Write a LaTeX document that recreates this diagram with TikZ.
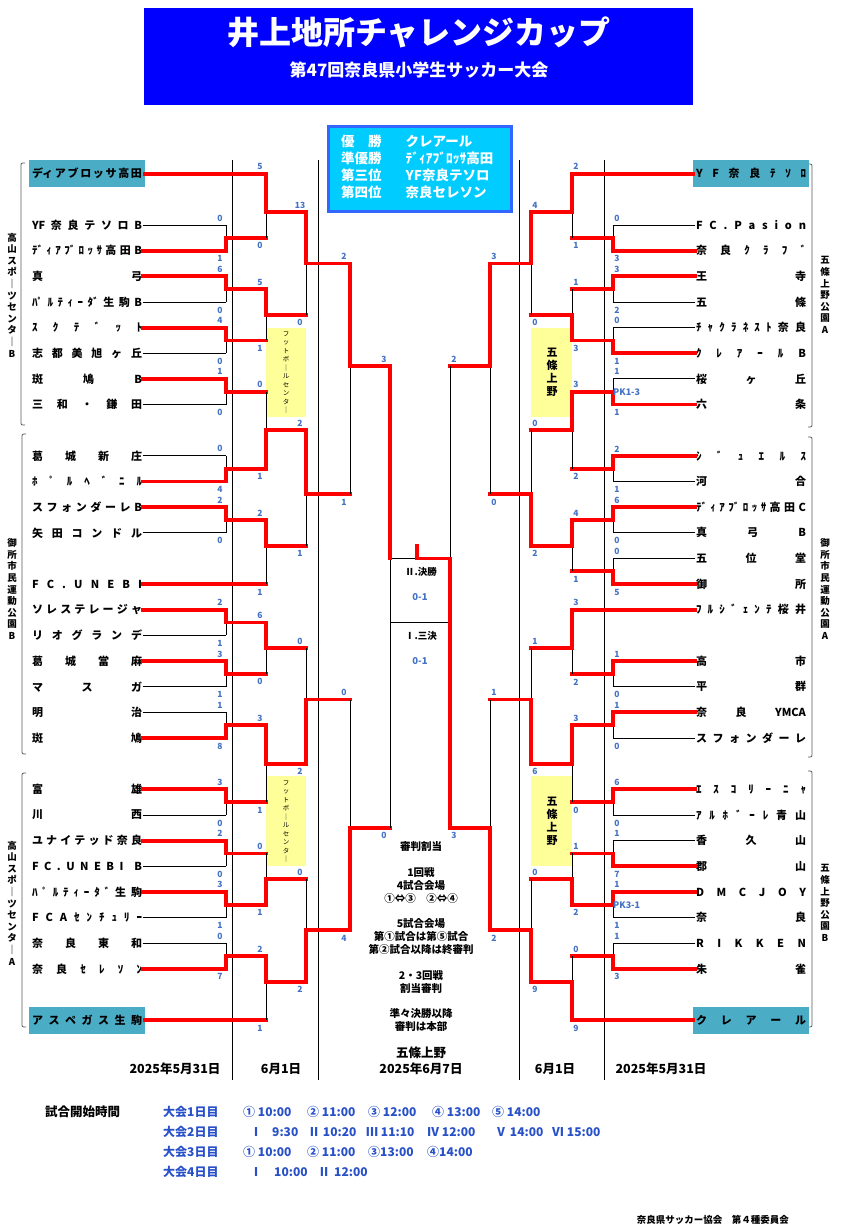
\documentclass[tikz,border=0pt]{standalone}
\usepackage{fontspec}
\setmainfont{Noto Sans CJK JP}
\usetikzlibrary{positioning}
\definecolor{hdrblue}{RGB}{0,0,255}
\definecolor{rescyan}{RGB}{0,204,255}
\definecolor{resedge}{RGB}{51,102,255}
\definecolor{seedteal}{RGB}{75,172,198}
\definecolor{venueyellow}{RGB}{255,255,153}
\definecolor{scoreblue}{RGB}{68,114,196}
\definecolor{timeblue}{RGB}{40,80,200}
\definecolor{pathred}{RGB}{255,0,0}
\newcommand{\fsz}[1]{\fontsize{#1}{#1}\selectfont}
\makeatletter
\newcommand{\spreadname}[1]{\makebox[110pt][s]{\let\spr@gap\relax\@tfor\spr@c:=#1\do{\spr@gap\spr@c\let\spr@gap\hfill}}}
\makeatother

\begin{document}
\begin{tikzpicture}[x=1pt, y=-1pt,
    declare function={ry(\rowk)=225+25.65*(\rowk);},
    team/.style={inner sep=0.5pt, font=\bfseries\fsz{11}},
    seedbox/.style={team, fill=seedteal, minimum width=116pt, minimum height=27pt},
    winline/.style={draw=pathred, line width=3.8pt, line cap=rect},
    loseline/.style={draw=black, line width=0.9pt},
    colline/.style={draw=black, line width=1pt},
    score/.style={font=\bfseries\fsz{8.5}, text=scoreblue, inner sep=0pt},
    venuebox/.style={fill=venueyellow},
    vlabel/.style={align=center, font=\bfseries\fontsize{9.5}{11.6}\selectfont, inner sep=0pt},
    bracket/.style={draw=black!65, line width=0.8pt},
    note/.style={font=\bfseries\fontsize{10.5}{13}\selectfont, align=center, inner sep=0pt},
    timetxt/.style={anchor=west, inner sep=0pt, text=timeblue, font=\bfseries\fsz{12}}
  ]
  \fill[white] (0,0) rectangle (852,1232);
  \useasboundingbox (0,0) rectangle (852,1232);

  % header
  \node[fill=hdrblue, minimum width=549pt, minimum height=97pt, inner sep=0pt] (hdr) at (418.5,56.5) {};
  \node[text=white, font=\bfseries\fsz{32}] (title) at (419,32) {井上地所チャレンジカップ};
  \node[text=white, font=\bfseries\fsz{17}] (subtitle) at (419,70) {第47回奈良県小学生サッカー大会};

  % results
  \node[draw=resedge, line width=3pt, fill=rescyan, minimum width=183pt, minimum height=85pt, inner sep=0pt] (results) at (420,168.5) {};
  \node[anchor=west, text=white, font=\bfseries\fontsize{13.5}{17}\selectfont, inner sep=0pt] (ranking) at (341,168.5)
    {\begin{tabular}{@{}l@{\hspace{24pt}}l@{}}優　勝 & クレアール\\ 準優勝 & ﾃﾞｨｱﾌﾞﾛｯｻ高田\\ 第三位 & YF奈良テソロ\\ 第四位 & 奈良セレソン\end{tabular}};

  % venues
  \fill[venuebox] (266,{ry(4)}) rectangle (306,{ry(7.5)});
  \fill[venuebox] (266,{ry(21.5)}) rectangle (306,{ry(25)});
  \fill[venuebox] (531,{ry(4)}) rectangle (572,{ry(7.5)});
  \fill[venuebox] (531,{ry(21.5)}) rectangle (572,{ry(25)});
  \node[align=center, font=\fontsize{6.5}{8.5}\selectfont, inner sep=0pt] (fbcA) at (286,{ry(5.75)}) {フ\\ッ\\ト\\ボ\\｜\\ル\\セ\\ン\\タ\\｜};
  \node[align=center, font=\fontsize{6.5}{8.5}\selectfont, inner sep=0pt] (fbcB) at (286,{ry(23.25)}) {フ\\ッ\\ト\\ボ\\｜\\ル\\セ\\ン\\タ\\｜};
  \node[align=center, font=\bfseries\fontsize{11}{13}\selectfont, inner sep=0pt] (gojoA) at (552,{ry(5.75)}) {五\\條\\上\\野};
  \node[align=center, font=\bfseries\fontsize{11}{13}\selectfont, inner sep=0pt] (gojoB) at (552,{ry(23.25)}) {五\\條\\上\\野};

  \foreach \cx in {232,318,519,604}
    \draw[colline] (\cx,160) -- (\cx,1080);

  % venue brackets
  \draw[bracket] (25,163) .. controls (21,163) .. (21,167) -- (21,421) .. controls (21,425) .. (25,425);
  \draw[bracket] (26,434) .. controls (22,434) .. (22,438) -- (22,750) .. controls (22,754) .. (26,754);
  \draw[bracket] (26,773) .. controls (22,773) .. (22,777) -- (22,1023) .. controls (22,1027) .. (26,1027);
  \draw[bracket] (808,164) .. controls (812,164) .. (812,168) -- (812,423) .. controls (812,427) .. (808,427);
  \draw[bracket] (808,437) .. controls (812,437) .. (812,441) -- (812,753) .. controls (812,757) .. (808,757);
  \draw[bracket] (808,771) .. controls (812,771) .. (812,775) -- (812,1023) .. controls (812,1027) .. (808,1027);
  \node[vlabel] (siteL1) at (12,295) {高\\山\\ス\\ポ\\｜\\ツ\\セ\\ン\\タ\\｜\\B};
  \node[vlabel] (siteL2) at (12,589) {御\\所\\市\\民\\運\\動\\公\\園\\B};
  \node[vlabel] (siteL3) at (12,903) {高\\山\\ス\\ポ\\｜\\ツ\\セ\\ン\\タ\\｜\\A};
  \node[vlabel] (siteR1) at (825,295) {五\\條\\上\\野\\公\\園\\A};
  \node[vlabel] (siteR2) at (825,589) {御\\所\\市\\民\\運\\動\\公\\園\\A};
  \node[vlabel] (siteR3) at (825,903) {五\\條\\上\\野\\公\\園\\B};

  % left teams
  \foreach \k/\xe/\ls/\st/\nm in {
      -2/266/winline/seedbox/{{ディ}アブロッサ高田},
      0/226/loseline/team/{{YF}奈良テソロB},
      1/226/winline/team/{{ﾃﾞ}{ｨ}{ｱ}{ﾌﾞ}{ﾛ}{ｯ}{ｻ}高田B},
      2/226/winline/team/{真弓},
      3/226/loseline/team/{{ﾊﾟ}{ﾙ}{ﾃ}{ｨ}{ｰ}{ﾀﾞ}生駒B},
      4/226/winline/team/{ｽｸﾃﾞｯﾄ},
      5/226/loseline/team/{志都美旭ヶ丘},
      6/226/winline/team/{斑鳩B},
      7/226/loseline/team/{三和・鎌田},
      9/226/loseline/team/{葛城新庄},
      10/226/winline/team/{ﾎﾟﾙﾍﾞﾆﾙ},
      11/226/winline/team/{スフォンダーレB},
      12/226/loseline/team/{矢田コンドル},
      14/266/winline/team/{FC.UNEBI},
      15/226/winline/team/{ソレステレージャ},
      16/226/loseline/team/{リオグランデ},
      17/226/winline/team/{葛城當麻},
      18/226/loseline/team/{マスガ},
      19/226/loseline/team/{明治},
      20/226/winline/team/{斑鳩},
      22/226/winline/team/{富雄},
      23/226/loseline/team/{川西},
      24/226/winline/team/{ユナイテッド奈良},
      25/226/loseline/team/{FC.UNEBI{}B},
      26/226/winline/team/{ﾊﾟﾙﾃｨｰﾀﾞ生駒},
      27/226/loseline/team/{FCAｾﾝﾁｭﾘｰ},
      28/226/loseline/team/{奈良東和},
      29/226/winline/team/{奈良ｾﾚｿﾝ},
      31/266/winline/seedbox/{アスペガス生駒}}{
    \node[\st] (L\k) at (87,{ry(\k)}) {\expandafter\spreadname\expandafter{\nm}};
    \draw[\ls] (L\k.east) -- (\xe,{ry(\k)});
  }

  % right teams
  \foreach \k/\xe/\ls/\st/\nm in {
      -2/572/winline/seedbox/{YF奈良ﾃｿﾛ},
      0/613/loseline/team/{FC.Pasion},
      1/613/winline/team/{奈良ｸﾗﾌﾞ},
      2/613/winline/team/{王寺},
      3/613/loseline/team/{五條},
      4/613/loseline/team/{ﾁｬｸﾗﾈｽﾄ奈良},
      5/613/winline/team/{ｸﾚｱｰﾙB},
      6/613/loseline/team/{桜ヶ丘},
      7/613/winline/team/{六条},
      9/613/winline/team/{ｼﾞｭｴﾙｽ},
      10/613/loseline/team/{河合},
      11/613/winline/team/{{ﾃﾞ}{ｨ}{ｱ}{ﾌﾞ}{ﾛ}{ｯ}{ｻ}高田C},
      12/613/loseline/team/{真弓B},
      13/613/loseline/team/{五位堂},
      14/613/winline/team/{御所},
      15/572/winline/team/{ﾌﾙｼﾞｪﾝﾃ桜井},
      17/613/winline/team/{高市},
      18/613/loseline/team/{平群},
      19/613/winline/team/{奈良{YMCA}},
      20/613/loseline/team/{スフォンダーレ},
      22/613/winline/team/{ｴｽｺﾘｰﾆｬ},
      23/613/loseline/team/{ｱﾙﾎﾞｰﾚ青山},
      24/613/loseline/team/{香久山},
      25/613/winline/team/{郡山},
      26/613/winline/team/{DMCJOY},
      27/613/loseline/team/{奈良},
      28/613/loseline/team/{RIKKEN},
      29/613/winline/team/{朱雀},
      31/572/winline/seedbox/{クレアール}}{
    \node[\st] (R\k) at (751,{ry(\k)}) {\expandafter\spreadname\expandafter{\nm}};
    \draw[\ls] (R\k.west) -- (\xe,{ry(\k)});
  }

  % left matches: join x / next x / top row / bottom row / out row / winner / scores
  \foreach \xj/\xn/\ka/\kb/\ko/\w/\sa/\sb [count=\i] in {
      226/266/0/1/0.5/2/0/1, 226/266/2/3/2.5/1/6/0, 226/266/4/5/4.5/1/4/0,
      226/266/6/7/6.5/1/1/0, 226/266/9/10/9.5/2/0/4, 226/266/11/12/11.5/1/2/0,
      226/266/15/16/15.5/1/2/1, 226/266/17/18/17.5/1/3/1, 226/266/19/20/19.5/2/1/8,
      226/266/22/23/22.5/1/3/0, 226/266/24/25/24.5/1/2/0, 226/266/26/27/26.5/1/3/1,
      226/266/28/29/28.5/2/0/7,
      266/306/-2/0.5/-0.5/1/5/0, 266/306/2.5/4.5/3.5/1/5/1, 266/306/6.5/9.5/8/2/0/1,
      266/306/11.5/14/12.5/1/2/1, 266/306/15.5/17.5/16.5/1/6/0, 266/306/19.5/22.5/21/1/3/1,
      266/306/24.5/26.5/25.5/2/0/1, 266/306/28.5/31/29.5/1/2/1,
      306/350/-0.5/3.5/1.5/1/13/0, 306/350/8/12.5/10.5/1/2/1,
      306/350/16.5/21/18.5/2/0/2, 306/350/25.5/29.5/27.5/2/0/2,
      350/390/1.5/10.5/5.5/1/2/1, 350/390/18.5/27.5/23.5/2/0/4}{
    \ifnum\w=1
      \draw[loseline] (\xj,{ry(\ko)}) -- (\xj,{ry(\kb)});
      \draw[winline] (\xj,{ry(\ka)}) -- (\xj,{ry(\ko)}) -- (\xn,{ry(\ko)});
    \else
      \draw[loseline] (\xj,{ry(\ko)}) -- (\xj,{ry(\ka)});
      \draw[winline] (\xj,{ry(\kb)}) -- (\xj,{ry(\ko)}) -- (\xn,{ry(\ko)});
    \fi
    \node[score] (lsa\i) at ({\xj-6},{ry(\ka)-7}) {\sa};
    \node[score] (lsb\i) at ({\xj-6},{ry(\kb)+8}) {\sb};
  }

  % right matches
  \foreach \xj/\xn/\ka/\kb/\ko/\w/\sa/\sb [count=\i] in {
      613/572/0/1/0.5/2/0/3, 613/572/2/3/2.5/1/3/2, 613/572/4/5/4.5/2/0/1,
      613/572/6/7/6.5/2/1/1, 613/572/9/10/9.5/1/2/1, 613/572/11/12/11.5/1/6/0,
      613/572/13/14/13.5/2/0/5, 613/572/17/18/17.5/1/1/0, 613/572/19/20/19.5/1/1/0,
      613/572/22/23/22.5/1/6/0, 613/572/24/25/24.5/2/1/7, 613/572/26/27/26.5/1/1/1,
      613/572/28/29/28.5/2/1/3,
      572/531/-2/0.5/-0.5/1/2/1, 572/531/2.5/4.5/3.5/2/1/3, 572/531/6.5/9.5/8/1/3/2,
      572/531/11.5/13.5/12.5/1/4/1, 572/531/15/17.5/16.5/1/3/2, 572/531/19.5/22.5/21/1/3/0,
      572/531/24.5/26.5/25.5/2/1/2, 572/531/28.5/31/29.5/2/0/9,
      531/490/-0.5/3.5/1.5/1/4/0, 531/490/8/12.5/10.5/2/0/2,
      531/490/16.5/21/18.5/2/1/6, 531/490/25.5/29.5/27.5/2/0/9,
      490/450/1.5/10.5/5.5/1/3/0, 490/450/18.5/27.5/23.5/2/1/2}{
    \ifnum\w=1
      \draw[loseline] (\xj,{ry(\ko)}) -- (\xj,{ry(\kb)});
      \draw[winline] (\xj,{ry(\ka)}) -- (\xj,{ry(\ko)}) -- (\xn,{ry(\ko)});
    \else
      \draw[loseline] (\xj,{ry(\ko)}) -- (\xj,{ry(\ka)});
      \draw[winline] (\xj,{ry(\kb)}) -- (\xj,{ry(\ko)}) -- (\xn,{ry(\ko)});
    \fi
    \node[score] (rsa\i) at ({\xj+4},{ry(\ka)-7}) {\sa};
    \node[score] (rsb\i) at ({\xj+4},{ry(\kb)+8}) {\sb};
  }
  \node[score, anchor=west, font=\bfseries\fsz{9}] (pkA) at (613,{ry(6.5)}) {PK1-3};
  \node[score, anchor=west, font=\bfseries\fsz{9}] (pkB) at (613,{ry(26.5)}) {PK3-1};

  % semifinals and final
  \coordinate (finTL) at (390,{ry(13)});
  \coordinate (finTM) at (417,{ry(13)});
  \coordinate (finTR) at (450,{ry(13)});
  \draw[loseline] (finTL) -- (390,{ry(23.5)});
  \draw[loseline] (finTR) -- (450,{ry(5.5)});
  \draw[loseline] (finTL) -- (finTM);
  \draw[loseline] (390,{ry(15.5)}) -- (450,{ry(15.5)});
  \draw[winline] (390,{ry(5.5)}) -- (finTL);
  \draw[winline] (450,{ry(23.5)}) -- (finTR) -- (finTM) -- (417,{ry(12.5)});
  \node[score] (sfLa) at (384,{ry(5.5)-7}) {3};
  \node[score] (sfLb) at (384,{ry(23.5)+8}) {0};
  \node[score] (sfRa) at (454,{ry(5.5)-7}) {2};
  \node[score] (sfRb) at (454,{ry(23.5)+8}) {3};
  \node[font=\bfseries\fsz{9.5}, inner sep=0pt] (finname) at (421,572) {Ⅱ.決勝};
  \node[score, font=\bfseries\fsz{9.5}] (finscore) at (420,597) {0-1};
  \node[font=\bfseries\fsz{9.5}, inner sep=0pt] (thirdname) at (421,636) {Ⅰ.三決};
  \node[score, font=\bfseries\fsz{9.5}] (thirdscore) at (420,661) {0-1};

  % referee notes
  \node[note] (ref0) at (421,847) {審判割当};
  \node[note] (ref1) at (421,885) {1回戦\\4試合会場\\①⇔③　②⇔④};
  \node[note] (ref2) at (421,937) {5試合会場\\第①試合は第⑤試合\\第②試合以降は終審判};
  \node[note] (ref3) at (421,982) {2・3回戦\\割当審判};
  \node[note] (ref4) at (421,1020) {準々決勝以降\\審判は本部};
  \node[note, font=\bfseries\fontsize{12.5}{16}\selectfont] (finday) at (421,1061) {五條上野\\2025年6月7日};

  % dates
  \node[font=\bfseries\fsz{12.5}] (dayL1) at (175,1069) {2025年5月31日};
  \node[font=\bfseries\fsz{12.5}] (dayL2) at (281,1069) {6月1日};
  \node[font=\bfseries\fsz{12.5}] (dayR2) at (555,1069) {6月1日};
  \node[font=\bfseries\fsz{12.5}] (dayR1) at (661,1069) {2025年5月31日};

  % kickoff times
  \node[anchor=west, inner sep=0pt, font=\bfseries\fsz{12.5}] (kickoff) at (45,1112) {試合開始時間};
  \foreach \dn/\dy in {1/1112,2/1132,3/1152,4/1172}
    \node[timetxt] (day\dn) at (163,\dy) {大会\dn 日目};
  \foreach \tx/\slot [count=\i] in {243/{① 10:00},307/{② 11:00},368/{③ 12:00},432/{④ 13:00},492/{⑤ 14:00}}
    \node[timetxt] (ta\i) at (\tx,1112) {\slot};
  \foreach \tx/\slot [count=\i] in {250/Ⅰ,272/9:30,308/{Ⅱ 10:20},366/{Ⅲ 11:10},427/{Ⅳ 12:00},495/{Ⅴ 14:00},552/{Ⅵ 15:00}}
    \node[timetxt] (tb\i) at (\tx,1132) {\slot};
  \foreach \tx/\slot [count=\i] in {243/{① 10:00},307/{② 11:00},368/{③13:00},427/{④14:00}}
    \node[timetxt] (tc\i) at (\tx,1152) {\slot};
  \foreach \tx/\slot [count=\i] in {250/Ⅰ,274/10:00,318/Ⅱ,334/12:00}
    \node[timetxt] (td\i) at (\tx,1172) {\slot};

  \node[anchor=east, inner sep=0pt, font=\bfseries\fsz{9.5}] (footer) at (789,1220) {奈良県サッカー協会　第４種委員会};
\end{tikzpicture}
\end{document}
